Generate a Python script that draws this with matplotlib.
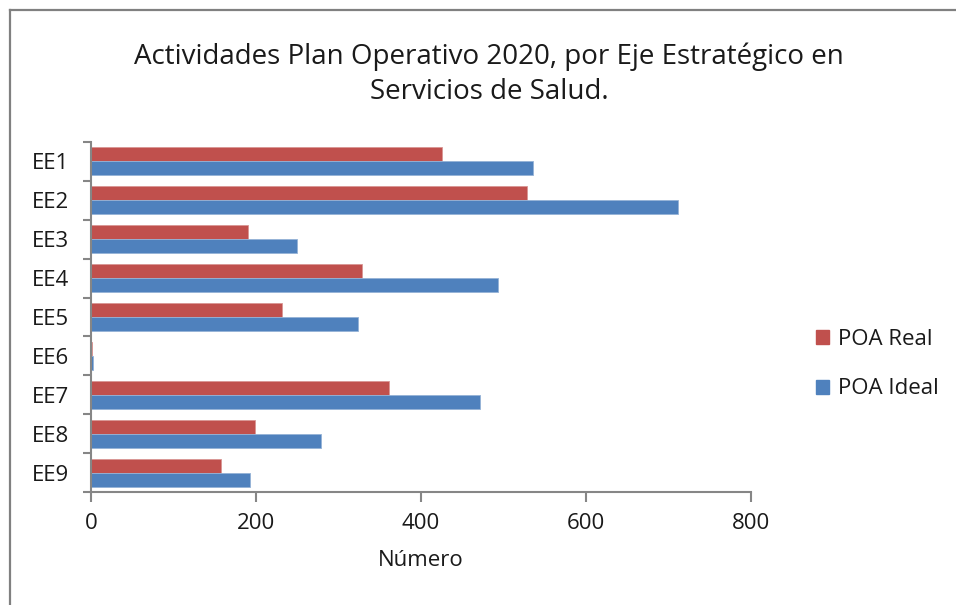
import matplotlib
matplotlib.use("Agg")
import matplotlib.pyplot as plt
from matplotlib.lines import Line2D
from matplotlib.patches import Patch
import numpy as np

categories = ["EE1", "EE2", "EE3", "EE4", "EE5", "EE6", "EE7", "EE8", "EE9"]
poa_real = [425, 529, 190, 329, 232, 1, 361, 199, 158]
poa_ideal = [536, 712, 250, 493, 324, 3, 472, 279, 193]
xticks = [0, 200, 400, 600, 800]

plt.rcParams['font.family'] = ['Open Sans', 'DejaVu Sans']

W, H = 956, 605
fig = plt.figure(figsize=(W / 100, H / 100), dpi=100)
ax = fig.add_axes([91 / W, 1 - 492 / H, 660 / W, 350 / H])

red = "#C0504D"
blue = "#4F81BD"
axc = "#868686"
txt = "#1a1a1a"

y = np.arange(len(categories))
bh = 0.36
ax.barh(y - bh / 2, poa_real, height=bh, color=red, edgecolor="#D99694", linewidth=0.6, label="POA Real")
ax.barh(y + bh / 2, poa_ideal, height=bh, color=blue, edgecolor="#95B3D7", linewidth=0.6, label="POA Ideal")

ax.set_ylim(len(categories) - 0.5, -0.5)
ax.set_xlim(0, 800)
ax.set_xticks(xticks)
ax.set_xticklabels([str(v) for v in xticks])
ax.set_yticks(y)
ax.set_yticklabels(categories)
ax.set_yticks(np.arange(len(categories) + 1) - 0.5, minor=True)
ax.tick_params(axis='y', which='major', length=0, pad=16, labelsize=16, labelcolor=txt)
ax.tick_params(axis='y', which='minor', length=6, width=1.5, color=axc, direction='out')
ax.tick_params(axis='x', which='major', length=7, width=1.5, color=axc, direction='out', labelsize=16,
               pad=8, labelcolor=txt)

for s in ['top', 'right']:
    ax.spines[s].set_visible(False)
for s in ['left', 'bottom']:
    ax.spines[s].set_color(axc)
    ax.spines[s].set_linewidth(1.5)

ax.set_xlabel("Número", fontsize=16, labelpad=12, color=txt)

fig.text(489 / W, 1 - 74 / H, "Actividades Plan Operativo 2020, por Eje Estratégico en\nServicios de Salud.",
         ha='center', va='center', fontsize=20, linespacing=1.32, color=txt)

handles = [Patch(facecolor=red, edgecolor=red), Patch(facecolor=blue, edgecolor=blue)]
leg = fig.legend(handles, ["POA Real", "POA Ideal"], loc='center left',
                 bbox_to_anchor=(796 / W, 1 - 364 / H), frameon=False, fontsize=16,
                 handlelength=0.6, handleheight=0.6, handletextpad=0.4, labelspacing=1.3)
for t in leg.get_texts():
    t.set_color(txt)

# chart border (left and top visible)
fig.add_artist(Line2D([9.5 / W, 9.5 / W], [0, 1 - 9.5 / H], color="#808080", linewidth=1.6))
fig.add_artist(Line2D([9.5 / W, 1], [1 - 9.5 / H, 1 - 9.5 / H], color="#808080", linewidth=1.6))

fig.savefig("out.png", dpi=100)
